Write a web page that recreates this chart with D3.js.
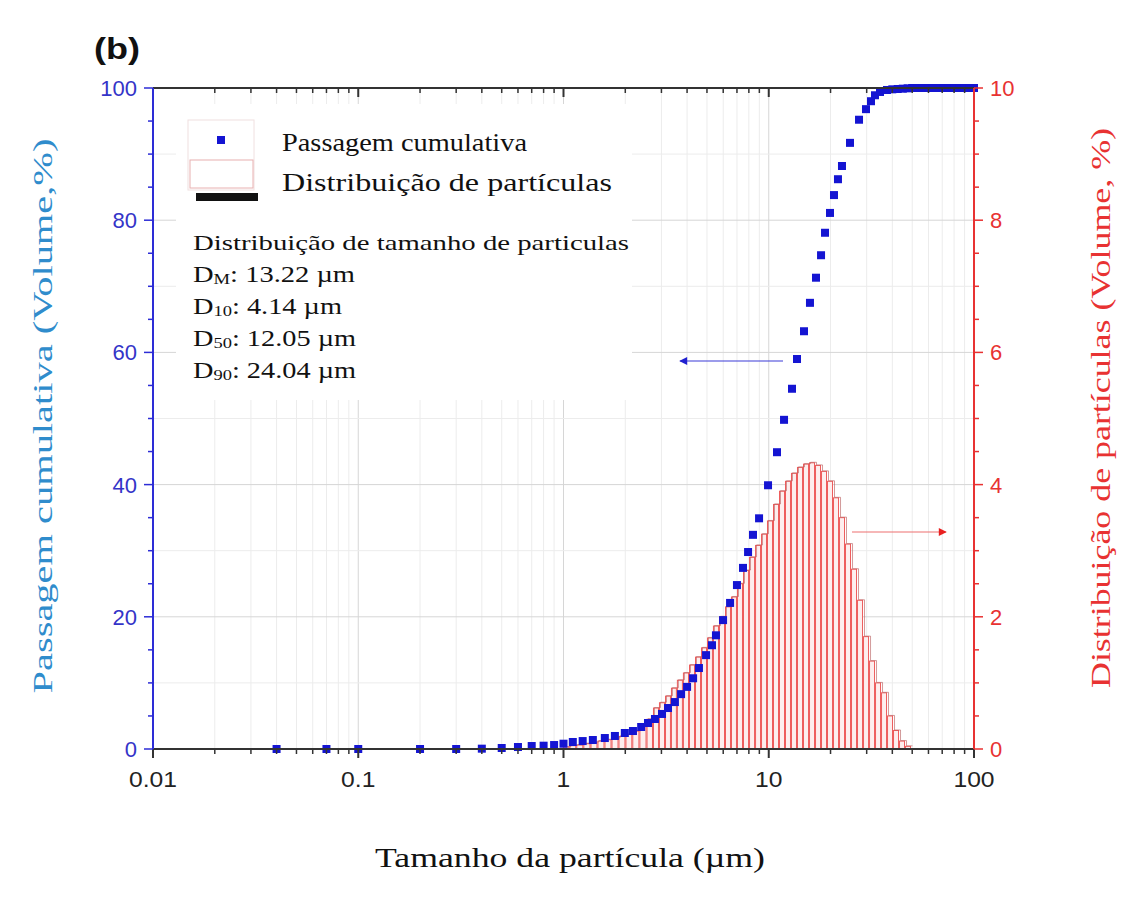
<!DOCTYPE html>
<html><head><meta charset="utf-8">
<script src="https://cdn.jsdelivr.net/npm/d3@7"></script>
<style>body{margin:0;background:#fff;} svg{display:block;}</style>
</head><body>
<script>
// ---- data ----
const cumSize = [0.04, 0.07, 0.1, 0.2, 0.3, 0.4, 0.5, 0.6, 0.7, 0.8, 0.9,
  1.0, 1.11, 1.24, 1.39, 1.59, 1.78, 1.99, 2.18, 2.39, 2.58,
  2.79, 3.02, 3.23, 3.49, 3.74, 4.0, 4.28, 4.57, 4.95, 5.29,
  5.53, 5.99, 6.48, 7.0, 7.49, 7.93, 8.38, 8.97, 9.92, 10.97,
  11.87, 12.98, 13.73, 14.85, 15.88, 16.99, 17.98, 18.8, 19.88, 20.79,
  21.74, 22.74, 24.88, 27.53, 29.77, 31.49, 32.93, 34.84, 37.68, 40.0,
  42.5, 45, 47.5, 50, 53, 56, 60, 63, 67, 71,
  75, 80, 85, 90, 95, 100];
const cumPass = [0, 0, 0, 0, 0, 0.05, 0.15, 0.3, 0.45, 0.5, 0.6,
  0.8, 1.06, 1.2, 1.36, 1.66, 1.97, 2.42, 2.72, 3.33, 3.93,
  4.54, 5.3, 6.2, 7.1, 8.3, 9.4, 10.7, 12.25, 14.2, 15.7,
  17.2, 19.5, 22.1, 24.8, 27.4, 29.8, 32.4, 34.9, 39.9, 44.9,
  49.8, 54.5, 59.0, 63.2, 67.5, 71.3, 74.7, 78.1, 81.1, 83.8,
  86.2, 88.2, 91.7, 95.2, 96.8, 98.0, 98.9, 99.4, 99.7, 99.8,
  99.85, 99.9, 99.95, 100, 100, 100, 100, 100, 100, 100,
  100, 100, 100, 100, 100, 100];
const binSize = [1.03, 1.11, 1.20, 1.30, 1.41, 1.52, 1.65, 1.78, 1.93, 2.08,
  2.25, 2.44, 2.64, 2.82, 3.02, 3.23, 3.45, 3.69, 3.95, 4.23,
  4.52, 4.84, 5.17, 5.53, 5.92, 6.33, 6.77, 7.24, 7.75, 8.29,
  8.87, 9.48, 10.14, 10.85, 11.60, 12.41, 13.27, 14.20, 15.19, 16.25,
  17.38, 18.59, 19.88, 21.27, 22.75, 24.33, 26.03, 27.84, 29.78, 31.86,
  34.07, 36.45, 38.98, 41.69, 44.60, 47.70];
const binPct = [0.03, 0.05, 0.06, 0.08, 0.10, 0.12, 0.14, 0.16, 0.19, 0.22,
  0.27, 0.34, 0.45, 0.62, 0.70, 0.80, 0.92, 1.04, 1.15, 1.27,
  1.39, 1.53, 1.68, 1.86, 2.00, 2.15, 2.30, 2.50, 2.70, 2.90,
  3.08, 3.25, 3.45, 3.70, 3.90, 4.05, 4.17, 4.26, 4.31, 4.33,
  4.29, 4.20, 4.05, 3.80, 3.50, 3.10, 2.72, 2.25, 1.70, 1.33,
  1.00, 0.85, 0.50, 0.28, 0.12, 0.04];
const xTicks = [0.01, 0.1, 1, 10, 100];
const xTickLabels = ["0.01", "0.1", "1", "10", "100"];
const yLeftTicks = [0, 20, 40, 60, 80, 100];
const yRightTicks = [0, 2, 4, 6, 8, 10];
const statsLines = [
  {main: "D", sub: "M", rest: ": 13.22 µm"},
  {main: "D", sub: "10", rest: ": 4.14 µm"},
  {main: "D", sub: "50", rest: ": 12.05 µm"},
  {main: "D", sub: "90", rest: ": 24.04 µm"}
];

// ---- layout ----
const W = 1130, H = 913;
const L = 153, R = 974, T = 88, B = 749;
const SERIF = "Liberation Serif, Times New Roman, serif";
const SANS = "Liberation Sans, Arial, sans-serif";
const svg = d3.select("body").append("svg").attr("width", W).attr("height", H);
const x = d3.scaleLog().domain([0.01, 100]).range([L, R]);
const yL = d3.scaleLinear().domain([0, 100]).range([B, T]);
const yR = d3.scaleLinear().domain([0, 10]).range([B, T]);

const minorX = [];
for (let e = -2; e < 2; e++) for (let m = 2; m <= 9; m++) minorX.push(m * Math.pow(10, e));

// grid
const grid = svg.append("g");
grid.selectAll(".gxm").data(minorX).enter().append("line")
  .attr("x1", d => x(d)).attr("x2", d => x(d)).attr("y1", T).attr("y2", B)
  .attr("stroke", "#ececec").attr("stroke-width", 1);
grid.selectAll(".gx").data(xTicks.slice(1, -1)).enter().append("line")
  .attr("x1", d => x(d)).attr("x2", d => x(d)).attr("y1", T).attr("y2", B)
  .attr("stroke", "#d6d6d6").attr("stroke-width", 1);
grid.selectAll(".gym").data([10, 30, 50, 70, 90]).enter().append("line")
  .attr("x1", L).attr("x2", R).attr("y1", d => yL(d)).attr("y2", d => yL(d))
  .attr("stroke", "#ececec").attr("stroke-width", 1);
grid.selectAll(".gy").data([20, 40, 60, 80]).enter().append("line")
  .attr("x1", L).attr("x2", R).attr("y1", d => yL(d)).attr("y2", d => yL(d))
  .attr("stroke", "#d6d6d6").attr("stroke-width", 1);

// white panel behind legend & text
svg.append("rect").attr("x", 176).attr("y", 104).attr("width", 456).attr("height", 296).attr("fill", "#fff");

// histogram bars
const bars = svg.append("g");
function edges(i) {
  const cx = x(binSize[i]);
  const prev = i > 0 ? x(binSize[i - 1]) : cx - (x(binSize[1]) - x(binSize[0]));
  const next = i < binSize.length - 1 ? x(binSize[i + 1]) : cx + (cx - x(binSize[i - 1]));
  return [(prev + cx) / 2, (cx + next) / 2];
}
binSize.forEach((s, i) => {
  const [x0, x1] = edges(i);
  bars.append("rect")
    .attr("x", x0 + 0.5).attr("y", yR(binPct[i]))
    .attr("width", Math.max(1, x1 - x0 - 1)).attr("height", yR(0) - yR(binPct[i]))
    .attr("fill", "#fdeeee").attr("stroke", "#ee5c5c").attr("stroke-width", 1);
});
const stepPts = [];
binSize.forEach((s, i) => {
  const [x0, x1] = edges(i);
  stepPts.push([x0 + 1.5, yR(binPct[i]) - 0.5]);
  stepPts.push([x1 + 1.5, yR(binPct[i]) - 0.5]);
});
bars.append("path").attr("d", d3.line()(stepPts)).attr("fill", "none")
  .attr("stroke", "#b86060").attr("stroke-width", 0.8).attr("opacity", 0.8);

// cumulative squares
const sq = 8;
svg.append("g").selectAll("rect").data(cumSize).enter().append("rect")
  .attr("x", (d) => x(d) - sq / 2).attr("y", (d, i) => yL(cumPass[i]) - sq / 2)
  .attr("width", sq).attr("height", sq).attr("fill", "#1414d2");

// axes
const axG = svg.append("g");
axG.append("line").attr("x1", L).attr("x2", R).attr("y1", B).attr("y2", B).attr("stroke", "#333").attr("stroke-width", 2);
axG.selectAll(".bt").data(xTicks).enter().append("line")
  .attr("x1", d => x(d)).attr("x2", d => x(d)).attr("y1", B).attr("y2", B + 9).attr("stroke", "#333").attr("stroke-width", 2);
axG.selectAll(".btm").data(minorX).enter().append("line")
  .attr("x1", d => x(d)).attr("x2", d => x(d)).attr("y1", B).attr("y2", B + 5).attr("stroke", "#333").attr("stroke-width", 1.5);
const xl = axG.selectAll(".bl").data(xTicks).enter().append("text")
  .attr("x", d => x(d)).attr("y", B + 38).attr("text-anchor", "middle")
  .attr("font-family", SANS).attr("font-size", 22).attr("fill", "#222")
  .text((d, i) => xTickLabels[i]);
xl.each(function () { const w = this.getComputedTextLength(); d3.select(this).attr("textLength", w * 1.12).attr("lengthAdjust", "spacingAndGlyphs"); });
// top
axG.append("line").attr("x1", L).attr("x2", R).attr("y1", T).attr("y2", T).attr("stroke", "#333").attr("stroke-width", 2);
axG.selectAll(".tt").data(xTicks).enter().append("line")
  .attr("x1", d => x(d)).attr("x2", d => x(d)).attr("y1", T).attr("y2", T + 9).attr("stroke", "#333").attr("stroke-width", 2);
axG.selectAll(".ttm").data(minorX).enter().append("line")
  .attr("x1", d => x(d)).attr("x2", d => x(d)).attr("y1", T).attr("y2", T + 5).attr("stroke", "#333").attr("stroke-width", 1.5);
// left
const blue = "#2d2dd6";
axG.append("line").attr("x1", L).attr("x2", L).attr("y1", T).attr("y2", B).attr("stroke", blue).attr("stroke-width", 2);
axG.selectAll(".lt").data(d3.range(0, 101, 5)).enter().append("line")
  .attr("x1", L).attr("x2", d => L - (d % 20 === 0 ? 9 : 5)).attr("y1", d => yL(d)).attr("y2", d => yL(d))
  .attr("stroke", blue).attr("stroke-width", 1.5);
axG.selectAll(".ll").data(yLeftTicks).enter().append("text")
  .attr("x", L - 16).attr("y", d => yL(d) + 8).attr("text-anchor", "end")
  .attr("font-family", SANS).attr("font-size", 22).attr("fill", "#3434c8")
  .text(d => d);
// right
const red = "#e83232";
axG.append("line").attr("x1", R).attr("x2", R).attr("y1", T).attr("y2", B).attr("stroke", red).attr("stroke-width", 2);
axG.selectAll(".rt").data(d3.range(0, 10.01, 0.5)).enter().append("line")
  .attr("x1", R).attr("x2", d => R + (Math.abs(d % 2) < 1e-6 ? 9 : 5)).attr("y1", d => yR(d)).attr("y2", d => yR(d))
  .attr("stroke", red).attr("stroke-width", 1.5);
axG.selectAll(".rl").data(yRightTicks).enter().append("text")
  .attr("x", R + 16).attr("y", d => yR(d) + 8).attr("text-anchor", "start")
  .attr("font-family", SANS).attr("font-size", 22).attr("fill", red)
  .text(d => d);

// titles
svg.append("text").attr("x", 94).attr("y", 59)
  .attr("font-family", SANS).attr("font-weight", "bold").attr("font-size", 30).attr("fill", "#111")
  .attr("textLength", 46).attr("lengthAdjust", "spacingAndGlyphs").text("(b)");
function serifText(sel, size, len) {
  return sel.attr("font-family", SERIF).attr("font-size", size)
    .attr("textLength", len).attr("lengthAdjust", "spacingAndGlyphs");
}
serifText(svg.append("text").attr("transform", "translate(52,416) rotate(-90)").attr("text-anchor", "middle"), 27, 555)
  .attr("fill", "#2f8ccc").text("Passagem cumulativa  (Volume,%)");
serifText(svg.append("text").attr("transform", "translate(1110,408) rotate(-90)").attr("text-anchor", "middle"), 27, 560)
  .attr("fill", red).text("Distribuição de partículas (Volume, %)");
serifText(svg.append("text").attr("x", 375).attr("y", 867), 28, 390)
  .attr("fill", "#111").text("Tamanho da partícula (µm)");

// legend
const lg = svg.append("g");
lg.append("rect").attr("x", 188).attr("y", 120).attr("width", 66).attr("height", 70).attr("fill", "#fff").attr("stroke", "#f0e0e0");
lg.append("rect").attr("x", 217).attr("y", 136).attr("width", 8).attr("height", 8).attr("fill", "#1414d2");
lg.append("rect").attr("x", 190).attr("y", 160).attr("width", 63).attr("height", 28).attr("fill", "#fff").attr("stroke", "#e8b0b0");
lg.append("rect").attr("x", 196).attr("y", 193).attr("width", 62).attr("height", 8).attr("fill", "#111");
serifText(lg.append("text").attr("x", 282).attr("y", 151), 26, 245).attr("fill", "#111").text("Passagem cumulativa");
serifText(lg.append("text").attr("x", 282).attr("y", 191), 26, 330).attr("fill", "#111").text("Distribuição de partículas");

// stats text
const st = svg.append("g").attr("fill", "#111");
serifText(st.append("text").attr("x", 193).attr("y", 250), 22, 436).text("Distribuição  de tamanho de particulas");
const statW = [162, 149, 163, 163];
statsLines.forEach((s, i) => {
  const t = serifText(st.append("text").attr("x", 193).attr("y", 282 + i * 32), 23, statW[i]);
  t.append("tspan").text(s.main);
  t.append("tspan").attr("font-size", 15).attr("dy", 2).text(s.sub);
  t.append("tspan").attr("dy", -2).text(s.rest);
});

// arrows
const defs = svg.append("defs");
defs.append("marker").attr("id", "ab").attr("viewBox", "0 0 10 10").attr("refX", 9).attr("refY", 5)
  .attr("markerWidth", 15).attr("markerHeight", 8).attr("orient", "auto").attr("markerUnits", "userSpaceOnUse")
  .append("path").attr("d", "M0,0 L10,5 L0,10 Z").attr("fill", "#2020d0");
defs.append("marker").attr("id", "ar").attr("viewBox", "0 0 10 10").attr("refX", 9).attr("refY", 5)
  .attr("markerWidth", 15).attr("markerHeight", 8).attr("orient", "auto").attr("markerUnits", "userSpaceOnUse")
  .append("path").attr("d", "M0,0 L10,5 L0,10 Z").attr("fill", "#e82020");
svg.append("line").attr("x1", 783).attr("y1", 361).attr("x2", 680).attr("y2", 361)
  .attr("stroke", "#3a3ad8").attr("stroke-width", 1.2).attr("marker-end", "url(#ab)");
svg.append("line").attr("x1", 852).attr("y1", 532).attr("x2", 946).attr("y2", 532)
  .attr("stroke", "#ee7070").attr("stroke-width", 1.2).attr("marker-end", "url(#ar)");
</script>
</body></html>
